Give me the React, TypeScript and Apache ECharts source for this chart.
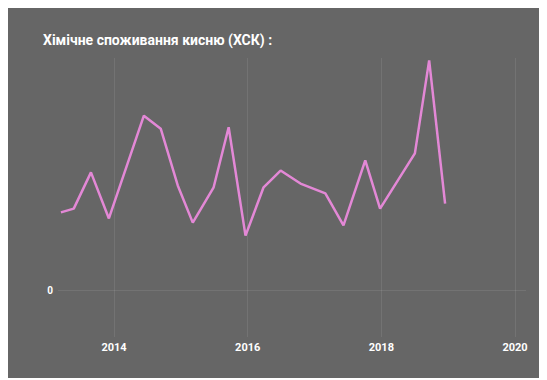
import React, { useEffect, useRef } from "react";
import * as echarts from "echarts";

const titleText = "Хімічне споживання кисню (ХСК) :";

const dates = [
  "2013-03-17", "2013-05-26", "2013-08-28", "2013-12-04", "2014-06-13",
  "2014-09-13", "2014-12-15", "2015-03-07", "2015-06-29", "2015-09-19",
  "2015-12-20", "2016-03-28", "2016-06-29", "2016-10-16", "2017-03-01",
  "2017-06-08", "2017-10-05", "2017-12-25", "2018-07-03", "2018-09-19",
  "2018-12-15",
];

const values = [
  16.8, 17.6, 25.4, 15.5, 37.6,
  34.8, 22.6, 14.6, 22.2, 35.1,
  11.8, 22.2, 25.8, 23.0, 20.9,
  14.0, 28.0, 17.6, 29.5, 49.5,
  18.7,
];

const yearTicks = [2014, 2016, 2018, 2020];
const yTicks = [0];

function toYear(d: string): number {
  const t = new Date(d + "T00:00:00Z");
  const y = t.getUTCFullYear();
  const start = Date.UTC(y, 0, 1);
  const end = Date.UTC(y + 1, 0, 1);
  return y + (t.getTime() - start) / (end - start);
}

export default function App() {
  const ref = useRef<HTMLDivElement>(null);
  useEffect(() => {
    if (!ref.current) return;
    const chart = echarts.init(ref.current, undefined, { renderer: "svg" });
    chart.setOption({
      animation: false,
      backgroundColor: "#666666",
      title: {
        text: titleText,
        left: 30,
        top: 20,
        textStyle: {
          color: "#ffffff",
          fontSize: 14,
          fontWeight: "bold",
          fontFamily: "Roboto, sans-serif",
        },
      },
      grid: { left: 50, right: 21, top: 50, bottom: 41 },
      xAxis: {
        type: "value",
        min: toYear("2013-03-01"),
        max: toYear("2020-03-01"),
        axisLine: { show: false },
        axisTick: { show: false, customValues: yearTicks },
        axisLabel: {
          customValues: yearTicks,
          color: "#ffffff",
          fontSize: 11,
          fontWeight: "bold",
          fontFamily: "Roboto, sans-serif",
          margin: 5,
          formatter: (v: number) => String(Math.round(v)),
        },
        splitLine: {
          show: true,
          lineStyle: { color: "rgba(255,255,255,0.09)", width: 1 },
        },
      },
      yAxis: {
        type: "value",
        min: -10,
        max: 50,
        axisLine: { show: false },
        axisTick: { show: false, customValues: yTicks },
        axisLabel: {
          customValues: yTicks,
          color: "#ffffff",
          fontSize: 10,
          fontWeight: "bold",
          fontFamily: "Roboto, sans-serif",
          margin: 5,
        },
        splitLine: {
          show: true,
          lineStyle: { color: "rgba(255,255,255,0.09)", width: 1 },
        },
      },
      series: [
        {
          type: "line",
          data: dates.map((d, i) => [toYear(d), values[i]]),
          showSymbol: false,
          symbol: "none",
          lineStyle: { color: "#e388d6", width: 2.5 },
          itemStyle: { color: "#e388d6" },
        },
      ],
    });
    return () => chart.dispose();
  }, []);
  return <div ref={ref} style={{ width: 539, height: 370 }} />;
}
